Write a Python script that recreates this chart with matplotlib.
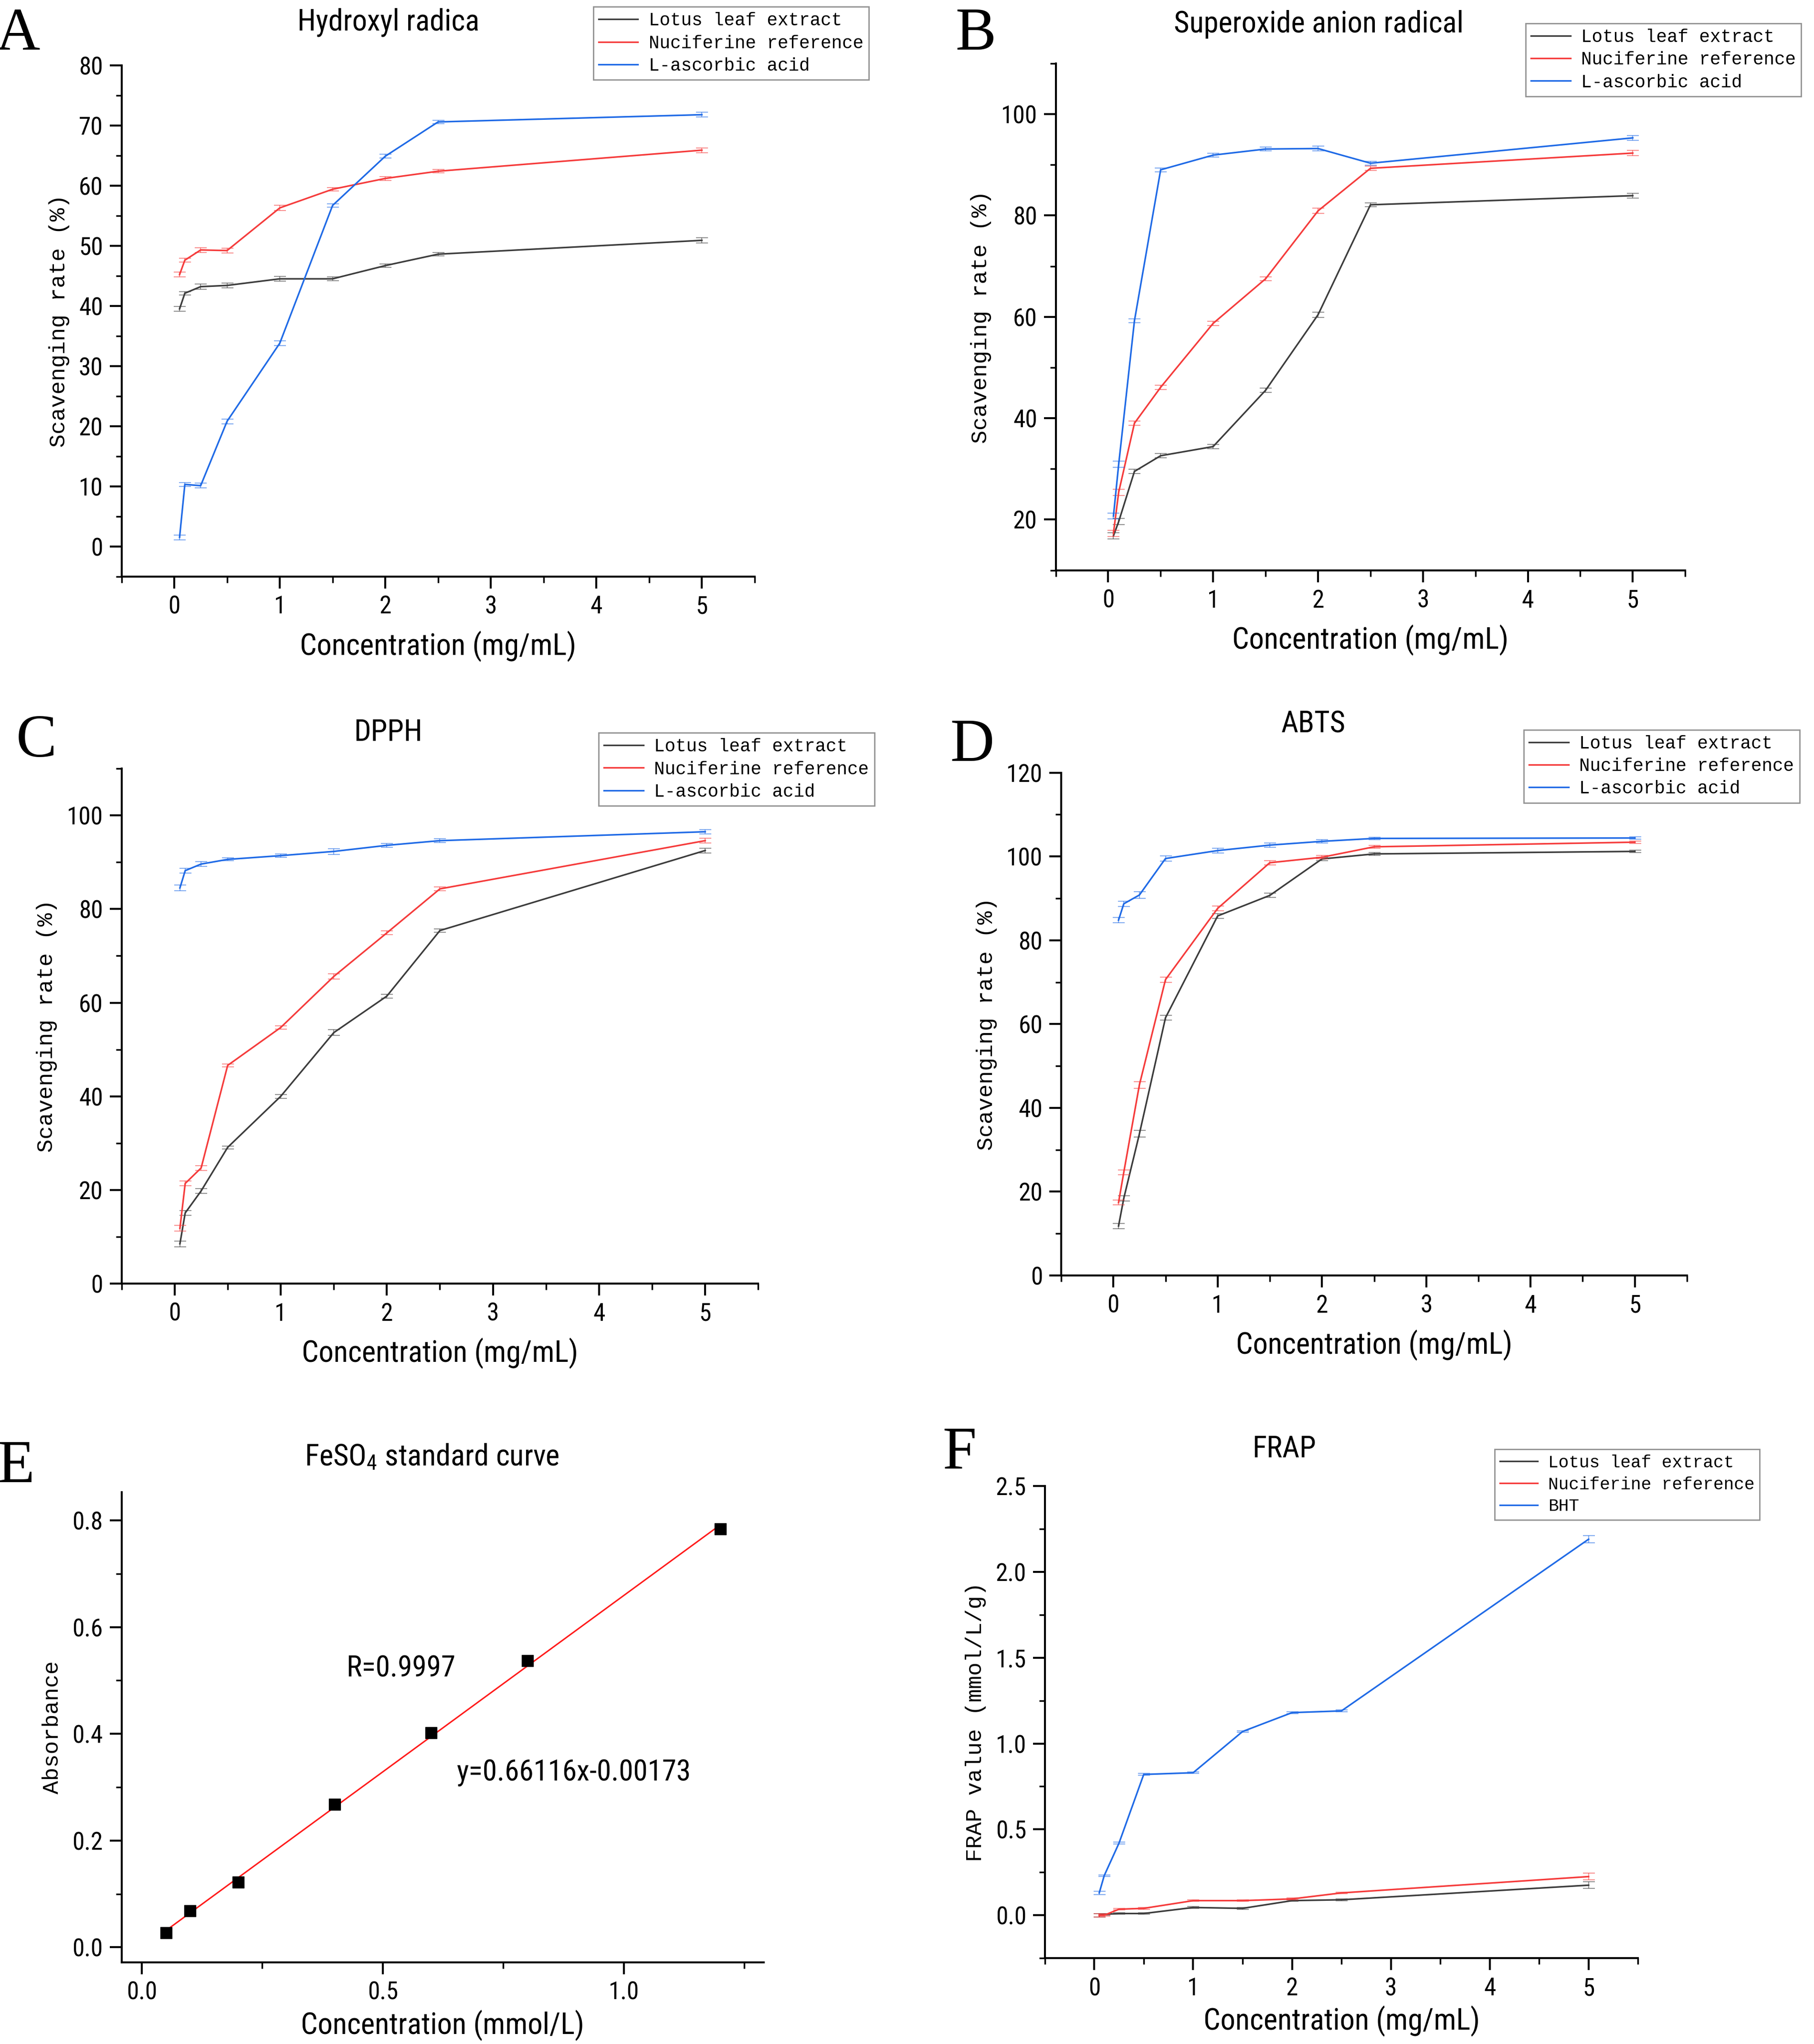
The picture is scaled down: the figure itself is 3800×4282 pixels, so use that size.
import matplotlib
matplotlib.use('Agg')
import matplotlib.pyplot as plt
from matplotlib import font_manager
from matplotlib.ticker import MultipleLocator

names = {f.name for f in font_manager.fontManager.ttflist}


def pick(*cands):
    for n in cands:
        if n in names:
            return n
    return 'DejaVu Sans'


narrow = pick('Liberation Sans Narrow', 'Roboto Condensed', 'Liberation Sans')
mono = pick('Liberation Mono', 'DejaVu Sans Mono')
serif = pick('Liberation Serif', 'DejaVu Serif')

plt.rcParams['font.family'] = [narrow, 'DejaVu Sans']
plt.rcParams['mathtext.default'] = 'regular'

# concentrations (mg/mL)
conc = [0.05, 0.1, 0.25, 0.5, 1, 1.5, 2, 2.5, 5]

# A - hydroxyl radical
a_lotus = [39.5, 42.1, 43.2, 43.4, 44.5, 44.5, 46.7, 48.6, 50.9]
a_nuci = [45.2, 47.6, 49.3, 49.2, 56.3, 59.4, 61.2, 62.4, 65.9]
a_vc = [1.5, 10.3, 10.1, 20.8, 33.8, 56.7, 64.9, 70.6, 71.8]
a_err = [0.4, 0.3, 0.4, 0.4, 0.4, 0.3, 0.3, 0.3, 0.4]

# B - superoxide anion radical
b_lotus = [16.8, 19.6, 29.5, 32.6, 34.4, 45.5, 60.4, 82.1, 83.9]
b_nuci = [17.3, 25.4, 39.0, 46.1, 58.7, 67.5, 80.9, 89.3, 92.3]
b_vc = [20.7, 30.9, 59.2, 89.0, 91.9, 93.1, 93.2, 90.3, 95.3]
b_err = [0.6, 0.6, 0.4, 0.4, 0.4, 0.4, 0.5, 0.4, 0.5]

# C - DPPH
c_lotus = [8.5, 15.1, 19.8, 29.1, 40.0, 53.6, 61.4, 75.4, 92.5]
c_nuci = [11.8, 21.4, 24.7, 46.6, 54.7, 65.6, 74.9, 84.3, 94.6]
c_vc = [84.5, 88.2, 89.6, 90.6, 91.4, 92.3, 93.6, 94.6, 96.5]
c_err = [0.6, 0.5, 0.5, 0.3, 0.4, 0.6, 0.4, 0.4, 0.5]

# D - ABTS
d_lotus = [11.8, 18.4, 33.8, 61.5, 85.8, 90.7, 99.4, 100.6, 101.2]
d_nuci = [17.4, 24.6, 45.5, 70.6, 87.6, 98.5, 99.8, 102.3, 103.4]
d_vc = [84.8, 88.7, 90.8, 99.5, 101.4, 102.7, 103.6, 104.3, 104.4]
d_err = [0.6, 0.6, 0.8, 0.6, 0.6, 0.5, 0.4, 0.3, 0.3]

# E - FeSO4 standard curve
fe_conc = [0.05, 0.1, 0.2, 0.4, 0.6, 0.8, 1.2]
fe_abs = [0.027, 0.068, 0.122, 0.268, 0.402, 0.537, 0.784]
fit_slope = 0.66116
fit_icpt = -0.00173

# F - FRAP
f_lotus = [0.0, 0.005, 0.01, 0.01, 0.045, 0.04, 0.085, 0.09, 0.175]
f_nuci = [0.0, 0.0, 0.035, 0.04, 0.085, 0.085, 0.095, 0.13, 0.225]
f_bht = [0.13, 0.23, 0.42, 0.82, 0.83, 1.07, 1.18, 1.19, 2.19]
f_err = [0.01, 0.005, 0.005, 0.005, 0.005, 0.005, 0.005, 0.005, 0.02]

labels3 = ['Lotus leaf extract', 'Nuciferine reference', 'L-ascorbic acid']
labelsF = ['Lotus leaf extract', 'Nuciferine reference', 'BHT']
colors = ['#3c3c3c', '#f53b3b', '#1f6ae6']

LW = 2.4
TICK_FS = 37
TITLE_FS = 45
XLAB_FS = 45
YLAB_FS = 33.5
LETTER_FS = 92


def style_axes(ax, xmaj, xmin, ymaj, ymin):
    ax.spines['top'].set_visible(False)
    ax.spines['right'].set_visible(False)
    for s in ('left', 'bottom'):
        ax.spines[s].set_linewidth(3)
    ax.xaxis.set_major_locator(MultipleLocator(xmaj))
    ax.xaxis.set_minor_locator(MultipleLocator(xmin))
    ax.yaxis.set_major_locator(MultipleLocator(ymaj))
    ax.yaxis.set_minor_locator(MultipleLocator(ymin))
    ax.tick_params(which='major', length=18, width=3, labelsize=TICK_FS, pad=10)
    ax.tick_params(which='minor', length=9, width=2.5)


def draw_curves(ax, ys, err, labs):
    handles = []
    for y, c, lab in zip(ys, colors, labs):
        ax.errorbar(conc, y, yerr=err, fmt='none', ecolor=c, alpha=0.55,
                    elinewidth=1.5, capsize=9, capthick=1.5)
        h, = ax.plot(conc, y, color=c, lw=LW, label=lab)
        handles.append(h)
    return handles


def add_legend(fig, ax, handles, x0, y1, size=27.5):
    leg = ax.legend(handles=handles, loc='upper left', bbox_to_anchor=(x0, y1),
                    bbox_transform=fig.transFigure, prop={'family': mono, 'size': size},
                    frameon=True, fancybox=False, edgecolor='#777777',
                    handlelength=2.2, handletextpad=0.6, labelspacing=0.3,
                    borderpad=0.3, borderaxespad=0)
    leg.get_frame().set_linewidth(2)


fig = plt.figure(figsize=(38, 42.82), dpi=100)

pos = {
    'A': [0.067, 0.718, 0.349, 0.250],
    'B': [0.582, 0.721, 0.347, 0.248],
    'C': [0.067, 0.372, 0.351, 0.252],
    'D': [0.585, 0.376, 0.345, 0.246],
    'E': [0.067, 0.040, 0.354, 0.230],
    'F': [0.576, 0.042, 0.327, 0.231],
}

panels = [
    ('A', [a_lotus, a_nuci, a_vc], a_err, (-5, 80), 10, 5, 'Hydroxyl radica',
     (0.214, 0.989), (0.010, 0.983), (0.327, 0.9967)),
    ('B', [b_lotus, b_nuci, b_vc], b_err, (10, 110), 20, 10, 'Superoxide anion radical',
     (0.727, 0.988), (0.538, 0.983), (0.841, 0.9886)),
    ('C', [c_lotus, c_nuci, c_vc], c_err, (0, 110), 20, 10, 'DPPH',
     (0.214, 0.6415), (0.020, 0.637), (0.330, 0.6415)),
    ('D', [d_lotus, d_nuci, d_vc], d_err, (0, 120), 20, 10, 'ABTS',
     (0.724, 0.6455), (0.536, 0.635), (0.840, 0.643)),
]

for key, ys, err, ylim, ymaj, ymin, title, tpos, lpos, legpos in panels:
    ax = fig.add_axes(pos[key])
    hs = draw_curves(ax, ys, err, labels3)
    ax.set_xlim(-0.5, 5.5)
    ax.set_ylim(*ylim)
    style_axes(ax, 1, 0.5, ymaj, ymin)
    ax.set_xlabel('Concentration (mg/mL)', fontsize=XLAB_FS, labelpad=18)
    ax.set_ylabel('Scavenging rate (%)', fontsize=YLAB_FS, family=mono, labelpad=14)
    fig.text(tpos[0], tpos[1], title, fontsize=TITLE_FS, ha='center', va='center')
    fig.text(lpos[0], lpos[1], key, fontsize=LETTER_FS, family=serif, ha='center', va='center')
    add_legend(fig, ax, hs, legpos[0], legpos[1], size=27)

# E
ax = fig.add_axes(pos['E'])
fit_x = [fe_conc[0], fe_conc[-1]]
fit_y = [fit_slope * v + fit_icpt for v in fit_x]
ax.plot(fit_x, fit_y, color='#ff1a1a', lw=2.2)
ax.plot(fe_conc, fe_abs, 's', color='black', ms=17)
ax.set_xlim(-0.042, 1.29)
ax.set_ylim(-0.028, 0.853)
style_axes(ax, 0.5, 0.25, 0.2, 0.1)
ax.xaxis.set_major_formatter(plt.FormatStrFormatter('%.1f'))
ax.yaxis.set_major_formatter(plt.FormatStrFormatter('%.1f'))
ax.set_xlabel('Concentration (mmol/L)', fontsize=XLAB_FS, labelpad=8)
ax.set_ylabel('Absorbance', fontsize=YLAB_FS, family=mono, labelpad=14)
ax.text(0.537, 0.522, 'R=0.9997', fontsize=44, ha='center', va='center')
ax.text(0.897, 0.327, 'y=0.66116x-0.00173', fontsize=44, ha='center', va='center')
fig.text(0.238, 0.287, 'FeSO$_4$ standard curve', fontsize=TITLE_FS, ha='center', va='center')
fig.text(0.0087, 0.282, 'E', fontsize=LETTER_FS, family=serif, ha='center', va='center')

# F
ax = fig.add_axes(pos['F'])
hs = []
for y, c, lab in zip([f_lotus, f_nuci, f_bht], colors, labelsF):
    ax.errorbar(conc, y, yerr=f_err, fmt='none', ecolor=c, alpha=0.55,
                elinewidth=1.5, capsize=9, capthick=1.5)
    h, = ax.plot(conc, y, color=c, lw=LW, label=lab)
    hs.append(h)
ax.set_xlim(-0.5, 5.5)
ax.set_ylim(-0.25, 2.5)
style_axes(ax, 1, 0.5, 0.5, 0.25)
ax.yaxis.set_major_formatter(plt.FormatStrFormatter('%.1f'))
ax.set_xlabel('Concentration (mg/mL)', fontsize=XLAB_FS, labelpad=8)
ax.set_ylabel('FRAP value (mmol/L/g)', fontsize=YLAB_FS, family=mono, labelpad=14)
fig.text(0.708, 0.291, 'FRAP', fontsize=TITLE_FS, ha='center', va='center')
fig.text(0.529, 0.289, 'F', fontsize=LETTER_FS, family=serif, ha='center', va='center')
add_legend(fig, ax, hs, 0.824, 0.291, size=26)

fig.savefig('out.png', dpi=100, facecolor='white')
